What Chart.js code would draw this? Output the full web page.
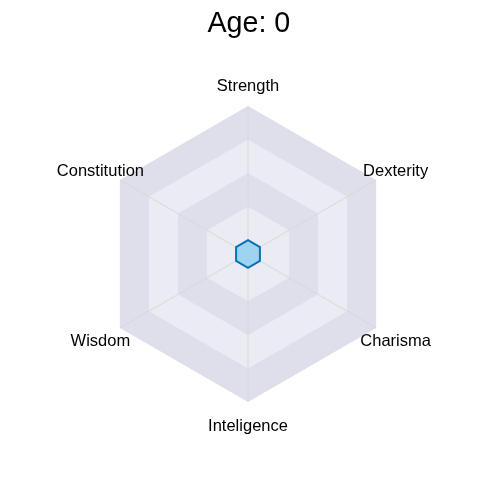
<!DOCTYPE html>
<html><head><meta charset="utf-8">
<script src="https://cdn.jsdelivr.net/npm/chart.js@4"></script>
<style>html,body{margin:0;padding:0;background:#fff}#wrap{width:480px;height:480px}</style>
</head><body><div id="wrap"><canvas id="c" width="480" height="480"></canvas></div>
<script>
const categories = ["Strength","Dexterity","Charisma","Inteligence","Wisdom","Constitution"];
const values = [0,0,0,0,0,0];
const ringLevels = [100,75,50,25];
const ringColors = ["#dfdfec","#ebebf4","#dfdfec","#ebebf4"];
const scaleMin = -10.25;
const scaleMax = 100;
const labelLevel = 116.7;
const titleText = "Age: 0";

const bands = {
  id:'bands',
  beforeDraw(chart){
    const s = chart.scales.r; const ctx = chart.ctx;
    ctx.save();
    ringLevels.forEach((v,k)=>{
      ctx.beginPath();
      categories.forEach((_,i)=>{
        const p = s.getPointPositionForValue(i,v);
        if(i===0) ctx.moveTo(p.x,p.y); else ctx.lineTo(p.x,p.y);
      });
      ctx.closePath();
      ctx.fillStyle = ringColors[k];
      ctx.fill();
    });
    ctx.restore();
  },
  afterDraw(chart){
    const s = chart.scales.r; const ctx = chart.ctx;
    ctx.save();
    ctx.font = '16.5px "Liberation Sans", Arial, sans-serif';
    ctx.fillStyle = '#000';
    ctx.textAlign = 'center';
    ctx.textBaseline = 'middle';
    categories.forEach((lab,i)=>{
      const p = s.getPointPositionForValue(i,labelLevel);
      ctx.fillText(lab,p.x,p.y+2.5);
    });
    ctx.restore();
  }
};

new Chart(document.getElementById('c'),{
  type:'radar',
  data:{labels:categories,datasets:[{data:values,backgroundColor:'#9fd4f1',borderColor:'#0a72b4',borderWidth:2,pointRadius:0}]},
  options:{
    responsive:false,animation:false,
    layout:{padding:{top:0,bottom:77.26,left:17.7,right:0}},
    plugins:{legend:{display:false},tooltip:{enabled:false},
      title:{display:true,text:titleText,color:'#000',font:{family:'Liberation Sans',size:28.7,weight:'normal',lineHeight:1.2},padding:{top:7,bottom:64.3}}},
    scales:{r:{min:scaleMin,max:scaleMax,ticks:{display:false,stepSize:25},
      grid:{display:false},
      angleLines:{color:'#d8d8d8',lineWidth:1},
      pointLabels:{display:false}}}
  },
  plugins:[bands]
});
</script></body></html>
